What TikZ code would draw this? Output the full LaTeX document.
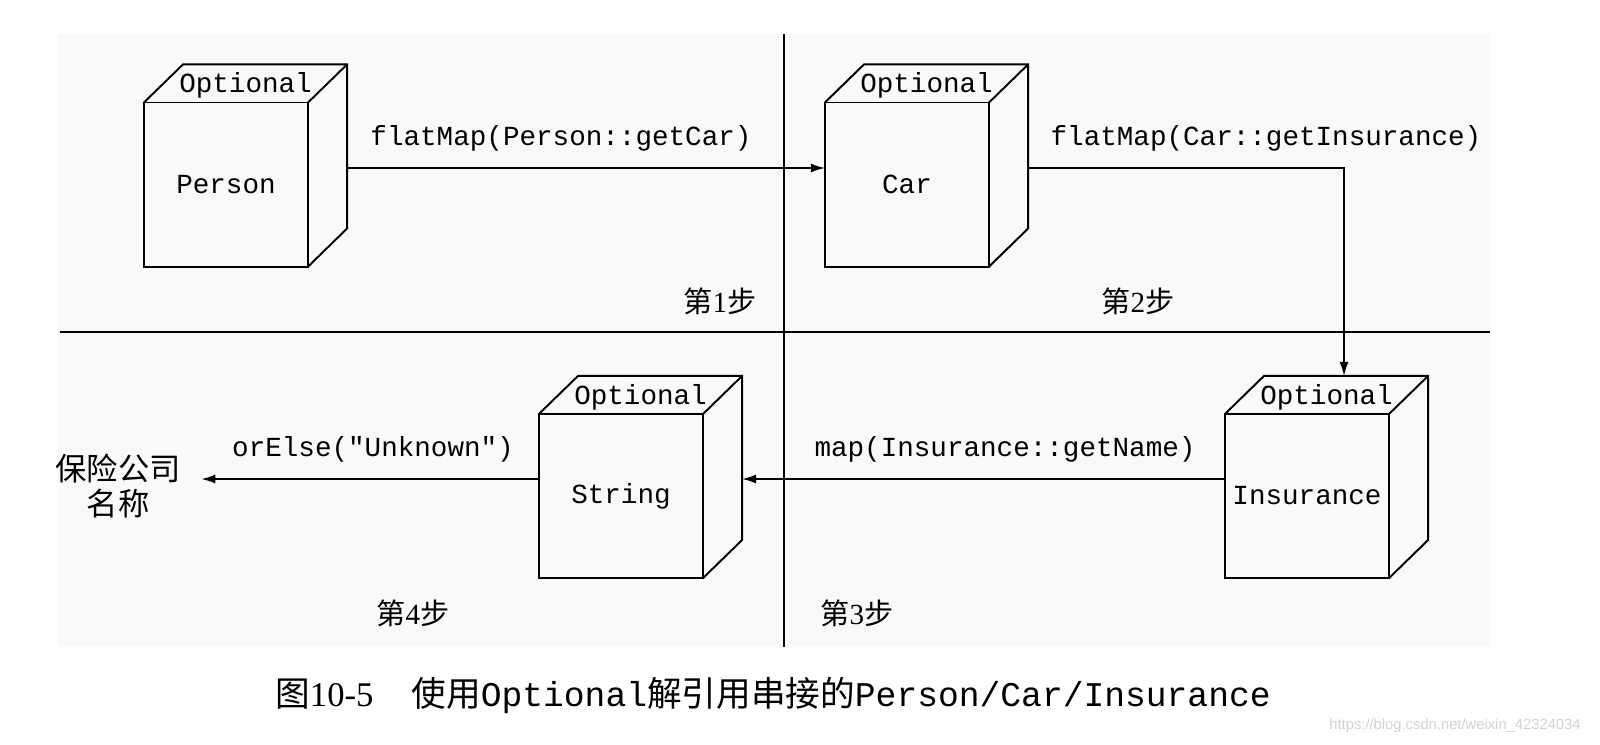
\documentclass[tikz,border=0pt]{standalone}
\usepackage{fontspec}
\setmainfont{Liberation Serif}
\setmonofont{Liberation Mono}
\setsansfont{Liberation Sans}
\newfontfamily\cjk{Noto Sans CJK SC}
\usetikzlibrary{arrows.meta}

\tikzstyle{optBox}=[shape=rectangle,draw,line width=0.55pt,minimum width=1.64cm,minimum height=1.64cm,inner sep=0pt,outer sep=0pt,font=\ttfamily\fontsize{7.85}{9}\selectfont]
\tikzstyle{boxEdge}=[line width=0.55pt]
\tikzstyle{codeLabel}=[font=\ttfamily\fontsize{7.85}{9}\selectfont,inner sep=0pt]
\tikzstyle{stepLabel}=[font=\fontsize{8.3}{10}\selectfont,inner sep=0pt]
\tikzstyle{flow}=[-{Latex[length=0.14cm,width=0.09cm]},line width=0.5pt]

% top and side faces of a box, with its label
\newcommand{\optfaces}[1]{%
  \draw[boxEdge] (#1.north west) -- ++(0.39cm,0.38cm) -- ++(1.64cm,0) -- ++(0,-1.64cm) -- (#1.south east);
  \draw[boxEdge] (#1.north east) -- ++(0.39cm,0.38cm);
  \node[codeLabel] (#1-opt) at ([xshift=0.195cm,yshift=0.17cm]#1.north) {Optional};
}

\begin{document}
\begin{tikzpicture}[x=0.01cm,y=-0.01cm]
        \useasboundingbox (0,0) rectangle (1600,744);
        % panel
        \fill[gray!5] (58,34) rectangle (1490,647);
        \draw[line width=0.55pt] (784,34) -- (784,647);
        \draw[line width=0.55pt] (60,332) -- (1490,332);

        % boxes
        \node[optBox] (person) at (226,184.5) {Person};
        \node[optBox] (car) at (907,184.5) {Car};
        \node[optBox] (insurance) at (1307,496) {Insurance};
        \node[optBox] (string) at (621,496) {String};
        \optfaces{person}
        \optfaces{car}
        \optfaces{insurance}
        \optfaces{string}

        \node[font=\cjk\fontsize{8.9}{10.2}\selectfont,align=center,inner xsep=0.2cm,inner ysep=0pt] (name) at (118,486) {保险公司\\名称};

        % connectors
        \draw [flow] ([xshift=0.39cm,yshift=0.165cm]person.east) -- ([yshift=0.165cm]car.west);
        \draw [flow] ([xshift=0.39cm,yshift=0.165cm]car.east) -| ([xshift=0.37cm,yshift=0.38cm]insurance.north);
        \draw [flow] ([yshift=0.17cm]insurance.west) -- ([xshift=0.39cm,yshift=0.17cm]string.east);
        \draw [flow] ([yshift=0.17cm]string.west) -- ([yshift=0.07cm]name.east);

        \node[codeLabel] (l1) at (561,138) {flatMap(Person::getCar)};
        \node[codeLabel] (l2) at (1266,138) {flatMap(Car::getInsurance)};
        \node[codeLabel] (l3) at (1005,449) {map(Insurance::getName)};
        \node[codeLabel] (l4) at (373,449) {orElse("Unknown")};

        % steps
        \node[stepLabel] (st1) at (720,301) {{\cjk 第}1{\cjk 步}};
        \node[stepLabel] (st2) at (1138,301) {{\cjk 第}2{\cjk 步}};
        \node[stepLabel] (st3) at (857,613) {{\cjk 第}3{\cjk 步}};
        \node[stepLabel] (st4) at (413,613) {{\cjk 第}4{\cjk 步}};

        \node[font=\fontsize{9.85}{11}\selectfont,inner sep=0pt] (caption) at (773,695)
          {{\cjk 图}10-5\hspace{1.1em}{\cjk 使用}\texttt{Optional}{\cjk 解引用串接的}\texttt{Person/Car/Insurance}};
        \node[font=\sffamily\fontsize{4.2}{5}\selectfont,text=gray!35,inner sep=0pt] (mark) at (1455,726) {https://blog.csdn.net/weixin\_42324034};
    \end{tikzpicture}
\end{document}
